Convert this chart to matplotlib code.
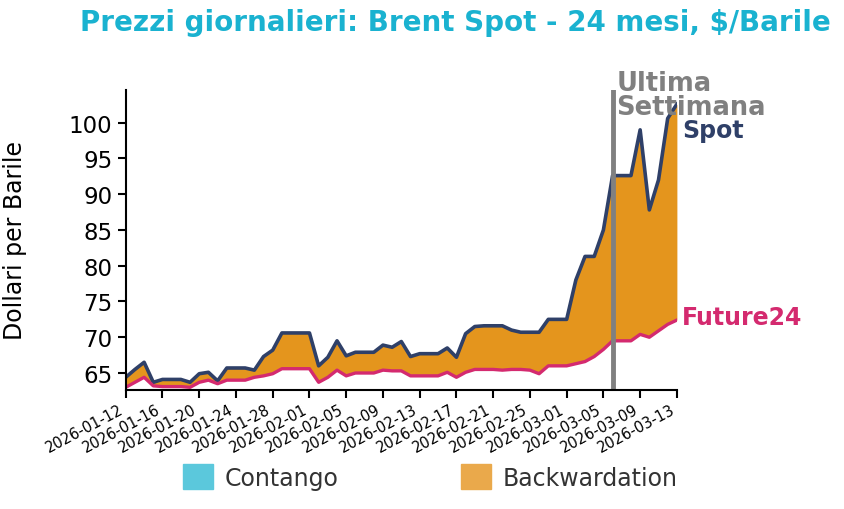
import numpy as np
import pandas as pd
import matplotlib
matplotlib.use("Agg")
import matplotlib.pyplot as plt
import matplotlib.dates as mdates
from matplotlib.patches import Patch

# --- data -------------------------------------------------------------
dates = pd.date_range("2026-01-12", "2026-03-13", freq="D")

spot = [64.4, 65.5, 66.5, 63.7, 64.1, 64.1, 64.1, 63.7, 64.9, 65.1,
        63.9, 65.7, 65.7, 65.7, 65.4, 67.3, 68.2, 70.6, 70.6, 70.6,
        70.6, 66.0, 67.2, 69.5, 67.4, 67.9, 67.9, 67.9, 68.9, 68.6,
        69.4, 67.3, 67.7, 67.7, 67.7, 68.5, 67.2, 70.5, 71.5, 71.6,
        71.6, 71.6, 71.0, 70.7, 70.7, 70.7, 72.5, 72.5, 72.5, 78.0,
        81.3, 81.3, 85.0, 92.6, 92.6, 92.6, 99.0, 87.8, 92.0, 100.6,
        102.6]

future24 = [63.0, 63.7, 64.4, 63.2, 63.1, 63.1, 63.1, 63.0, 63.7, 64.0,
            63.5, 64.0, 64.0, 64.0, 64.4, 64.6, 64.9, 65.6, 65.6, 65.6,
            65.6, 63.7, 64.4, 65.4, 64.6, 65.0, 65.0, 65.0, 65.4, 65.3,
            65.3, 64.6, 64.6, 64.6, 64.6, 65.1, 64.4, 65.1, 65.5, 65.5,
            65.5, 65.4, 65.5, 65.5, 65.4, 64.9, 66.0, 66.0, 66.0, 66.3,
            66.6, 67.3, 68.3, 69.5, 69.5, 69.5, 70.4, 70.0, 70.9, 71.8,
            72.4]

last_week = pd.Timestamp("2026-03-06")

# --- colours ----------------------------------------------------------
c_spot = "#2f4068"
c_fut = "#d42a6f"
c_back = "#e4951d"
c_cont = "#5bc8dc"

spot = np.array(spot)
future24 = np.array(future24)

fig = plt.figure(figsize=(8.44, 5.10), dpi=100)
ax = fig.add_axes([0.149, 0.233, 0.653, 0.589])

ax.fill_between(dates, future24, spot, where=spot >= future24,
                color=c_back, interpolate=True, lw=0)
ax.fill_between(dates, future24, spot, where=spot < future24,
                color=c_cont, interpolate=True, lw=0)
ax.plot(dates, spot, color=c_spot, lw=2.6)
ax.plot(dates, future24, color=c_fut, lw=2.4)

ax.axvline(last_week, color="#808080", lw=3.5)
ax.text(last_week + pd.Timedelta(hours=10), 100.4, "Ultima\nSettimana",
        color="#808080", fontsize=18.5, fontweight="bold",
        ha="left", va="bottom", linespacing=0.9)

ax.text(dates[-1] + pd.Timedelta(hours=14), 99.0, "Spot", color=c_spot,
        fontsize=17, fontweight="bold", ha="left", va="center")
ax.text(dates[-1] + pd.Timedelta(hours=14), 72.8, "Future24", color=c_fut,
        fontsize=17, fontweight="bold", ha="left", va="center")

ax.set_xlim(dates[0], dates[-1])
ax.set_ylim(62.6, 104.6)
ax.set_yticks(np.arange(65, 101, 5))
ax.set_xticks(pd.date_range(dates[0], dates[-1], freq="4D"))
ax.xaxis.set_major_formatter(mdates.DateFormatter("%Y-%m-%d"))
plt.setp(ax.get_xticklabels(), rotation=28, ha="right", fontsize=10.5)
ax.tick_params(axis="y", labelsize=16.5, length=6, width=1.5)
ax.tick_params(axis="x", length=6, width=1.5, pad=2)

for s in ["top", "right"]:
    ax.spines[s].set_visible(False)
for s in ["left", "bottom"]:
    ax.spines[s].set_linewidth(1.5)

ax.set_ylabel("Dollari per Barile", fontsize=17)
ax.yaxis.set_label_coords(-0.18, 0.5)

fig.text(0.54, 0.955, "Prezzi giornalieri: Brent Spot - 24 mesi, $/Barile",
         color="#1ab2d0", fontsize=20, fontweight="bold",
         ha="center", va="center")

handles = [Patch(color=c_cont, label="Contango"),
           Patch(color="#eaa94b", label="Backwardation")]
fig.legend(handles=handles, loc="center", bbox_to_anchor=(0.51, 0.063),
           ncol=2, frameon=False, fontsize=17, columnspacing=5.2,
           handlelength=1.25, handleheight=1.25, handletextpad=0.5,
           labelcolor="#333333")

fig.savefig("out.png", dpi=100)
